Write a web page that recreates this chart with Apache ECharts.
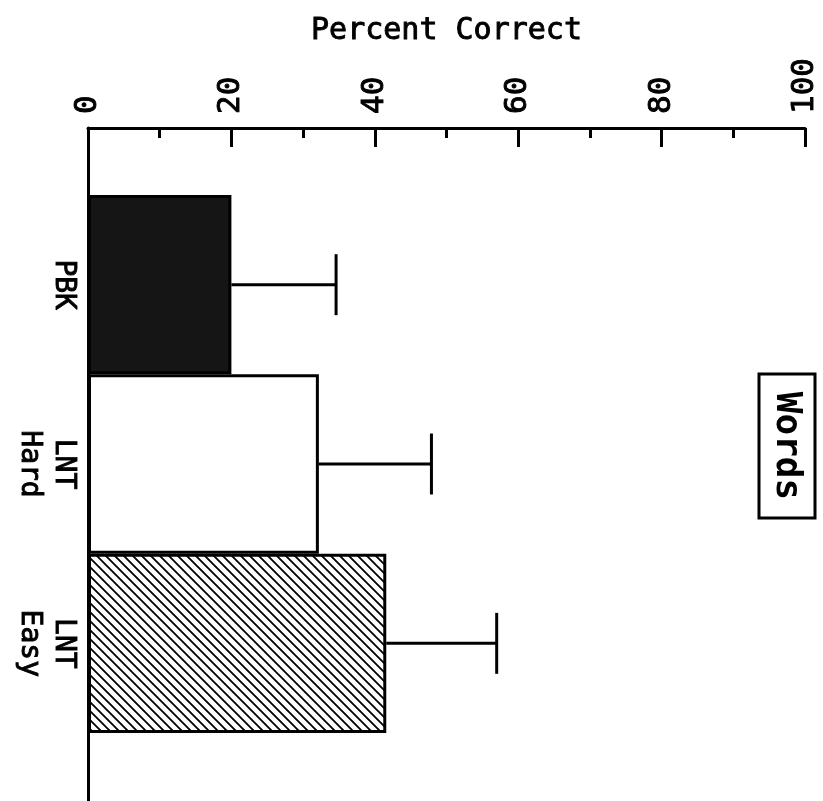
<!DOCTYPE html>
<html>
<head>
<meta charset="utf-8">
<script src="https://cdn.jsdelivr.net/npm/echarts@6/dist/echarts.min.js"></script>
<style>
  html, body { margin: 0; padding: 0; background: #fff; }
  #chart { width: 823px; height: 801px; }
</style>
</head>
<body>
<div id="chart"></div>
<script>
// ---- data ----
const categories = ['PBK', 'LNT\nHard', 'LNT\nEasy'];
const meanValues = [20.0, 32.2, 41.6];
const upperErrorValues = [34.6, 47.9, 57.0];
const axisTitle = 'Percent Correct';
const panelLabel = 'Words';

const FONT = 'DejaVu Sans Mono';

// hatch pattern for the LNT Easy bar
function makeHatch() {
  const s = 9;
  const c = document.createElement('canvas');
  c.width = s; c.height = s;
  const g = c.getContext('2d');
  g.fillStyle = '#fff';
  g.fillRect(0, 0, s, s);
  g.strokeStyle = '#000';
  g.lineWidth = 1.8;
  g.beginPath();
  g.moveTo(-1, -1); g.lineTo(s + 1, s + 1);
  g.moveTo(-1, s - 1); g.lineTo(1, s + 1);
  g.moveTo(s - 1, -1); g.lineTo(s + 1, 1);
  g.stroke();
  return c;
}

const fills = ['#151515', '#ffffff', { image: makeHatch(), repeat: 'repeat' }];

const barData = meanValues.map((v, i) => ({
  value: v,
  itemStyle: { color: fills[i], borderColor: '#000', borderWidth: 3 }
}));
const errData = meanValues.map((v, i) => [i, v, upperErrorValues[i]]);

const chart = echarts.init(document.getElementById('chart'), null, { renderer: 'canvas' });

const heavy = { textBorderColor: '#000', textBorderWidth: 0.9 };

chart.setOption({
  backgroundColor: '#fff',
  animation: false,
  grid: [
    { left: 88, right: 18, top: 195, bottom: 68 },
    { left: 88, right: 18, top: 128, bottom: 0 }
  ],
  xAxis: [
    { gridIndex: 0, type: 'value', min: 0, max: 100, show: false },
    {
      gridIndex: 1, type: 'value', position: 'top', min: 0, max: 100, interval: 20,
      name: axisTitle, nameLocation: 'middle', nameGap: 82,
      nameTextStyle: Object.assign({ fontFamily: FONT, fontSize: 30, color: '#000' }, heavy),
      axisLine: { show: true, onZero: false, lineStyle: { color: '#000', width: 3 } },
      axisTick: { show: true, inside: true, length: 19, lineStyle: { color: '#000', width: 3 } },
      minorTick: { show: true, splitNumber: 2, length: 10, lineStyle: { color: '#000', width: 3 } },
      splitLine: { show: false },
      axisLabel: Object.assign({ rotate: -90, fontFamily: FONT, fontSize: 31, color: '#000', margin: 14 }, heavy)
    }
  ],
  yAxis: [
    {
      gridIndex: 0, type: 'category', inverse: true, data: categories,
      axisLine: { show: false }, axisTick: { show: false }, splitLine: { show: false },
      axisLabel: Object.assign({ rotate: -90, fontFamily: FONT, fontSize: 28, color: '#000', margin: 8, lineHeight: 34 }, heavy)
    },
    {
      gridIndex: 1, type: 'value', min: 0, max: 1,
      axisLine: { show: true, onZero: false, lineStyle: { color: '#000', width: 3 } },
      axisTick: { show: false }, axisLabel: { show: false }, splitLine: { show: false }
    }
  ],
  series: [
    {
      type: 'bar', xAxisIndex: 0, yAxisIndex: 0, barWidth: '100%',
      data: barData, z: 2
    },
    {
      type: 'custom', xAxisIndex: 0, yAxisIndex: 0, z: 3,
      encode: { x: [1, 2], y: 0 },
      data: errData,
      renderItem: function (params, api) {
        const idx = api.value(0);
        const p0 = api.coord([api.value(1), idx]);
        const p1 = api.coord([api.value(2), idx]);
        const band = api.size([0, 1])[1];
        const half = band * 0.17;
        const st = { stroke: '#000', lineWidth: 3 };
        return {
          type: 'group',
          children: [
            { type: 'line', shape: { x1: p0[0], y1: p0[1], x2: p1[0], y2: p1[1] }, style: st },
            { type: 'line', shape: { x1: p1[0], y1: p1[1] - half, x2: p1[0], y2: p1[1] + half }, style: st }
          ]
        };
      }
    }
  ],
  graphic: [
    {
      type: 'group', x: 787, y: 446, rotation: -Math.PI / 2,
      children: [
        { type: 'rect', shape: { x: -72, y: -28, width: 144, height: 56 },
          style: { fill: '#fff', stroke: '#000', lineWidth: 3 } },
        { type: 'text', style: { text: panelLabel, x: 0, y: 1, align: 'center', verticalAlign: 'middle',
          font: 'bold 36px "DejaVu Sans Mono"', fill: '#000' } }
      ]
    }
  ]
});
</script>
</body>
</html>
